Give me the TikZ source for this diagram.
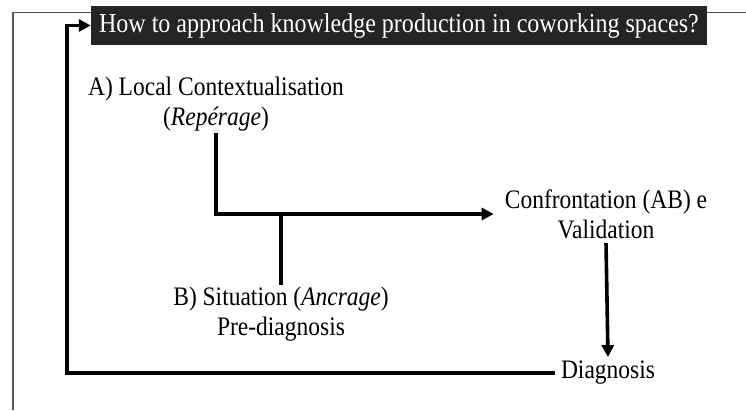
\documentclass[tikz,border=0pt]{standalone}
\usepackage{fontspec}
\setmainfont[FakeStretch=0.88]{Liberation Serif}
\usetikzlibrary{arrows.meta}
\definecolor{boxfill}{HTML}{252525}
\definecolor{framegray}{HTML}{555555}
\tikzset{
  lbl/.style={align=center, inner sep=4pt, font=\fontsize{26.7}{30}\selectfont},
  titlebox/.style={fill=boxfill, text=white, minimum width=616pt, minimum height=39pt, inner sep=0pt, font=\fontsize{27.3}{30}\selectfont},
  conn/.style={line width=3.6pt, draw=black},
  tip/.style={-{Triangle[length=12pt,width=12pt]}},
  frameline/.style={line width=1.2pt, draw=framegray}
}
\begin{document}
\begin{tikzpicture}[x=1pt,y=-1pt]
\useasboundingbox (0,0) rectangle (746,410);
\draw[frameline] (13,410) -- (13,12.5) -- (746,12.5);
\node[titlebox] (T) at (399,25.5) {How to approach knowledge production in coworking spaces?};
\node[lbl, inner ysep=2pt] (A) at (216,104) {A) Local Contextualisation\\(\textit{Repérage})};
\node[lbl, inner ysep=2pt] (B) at (281,314) {B) Situation (\textit{Ancrage})\\Pre-diagnosis};
\node[lbl, inner xsep=11pt] (C) at (606,214) {Confrontation (AB) e\\Validation};
\node[lbl, inner xsep=6pt] (D) at (608,373) {Diagnosis};
\coordinate (L) at (67,373);
\draw[conn,tip] (A.south) |- (C.west);
\draw[conn] (B.north) -- (B.north |- C.west);
\draw[conn,tip] (C.south) -- (D.north);
\draw[conn,tip] (D.west) -- (L) |- (T.west);
\end{tikzpicture}
\end{document}
